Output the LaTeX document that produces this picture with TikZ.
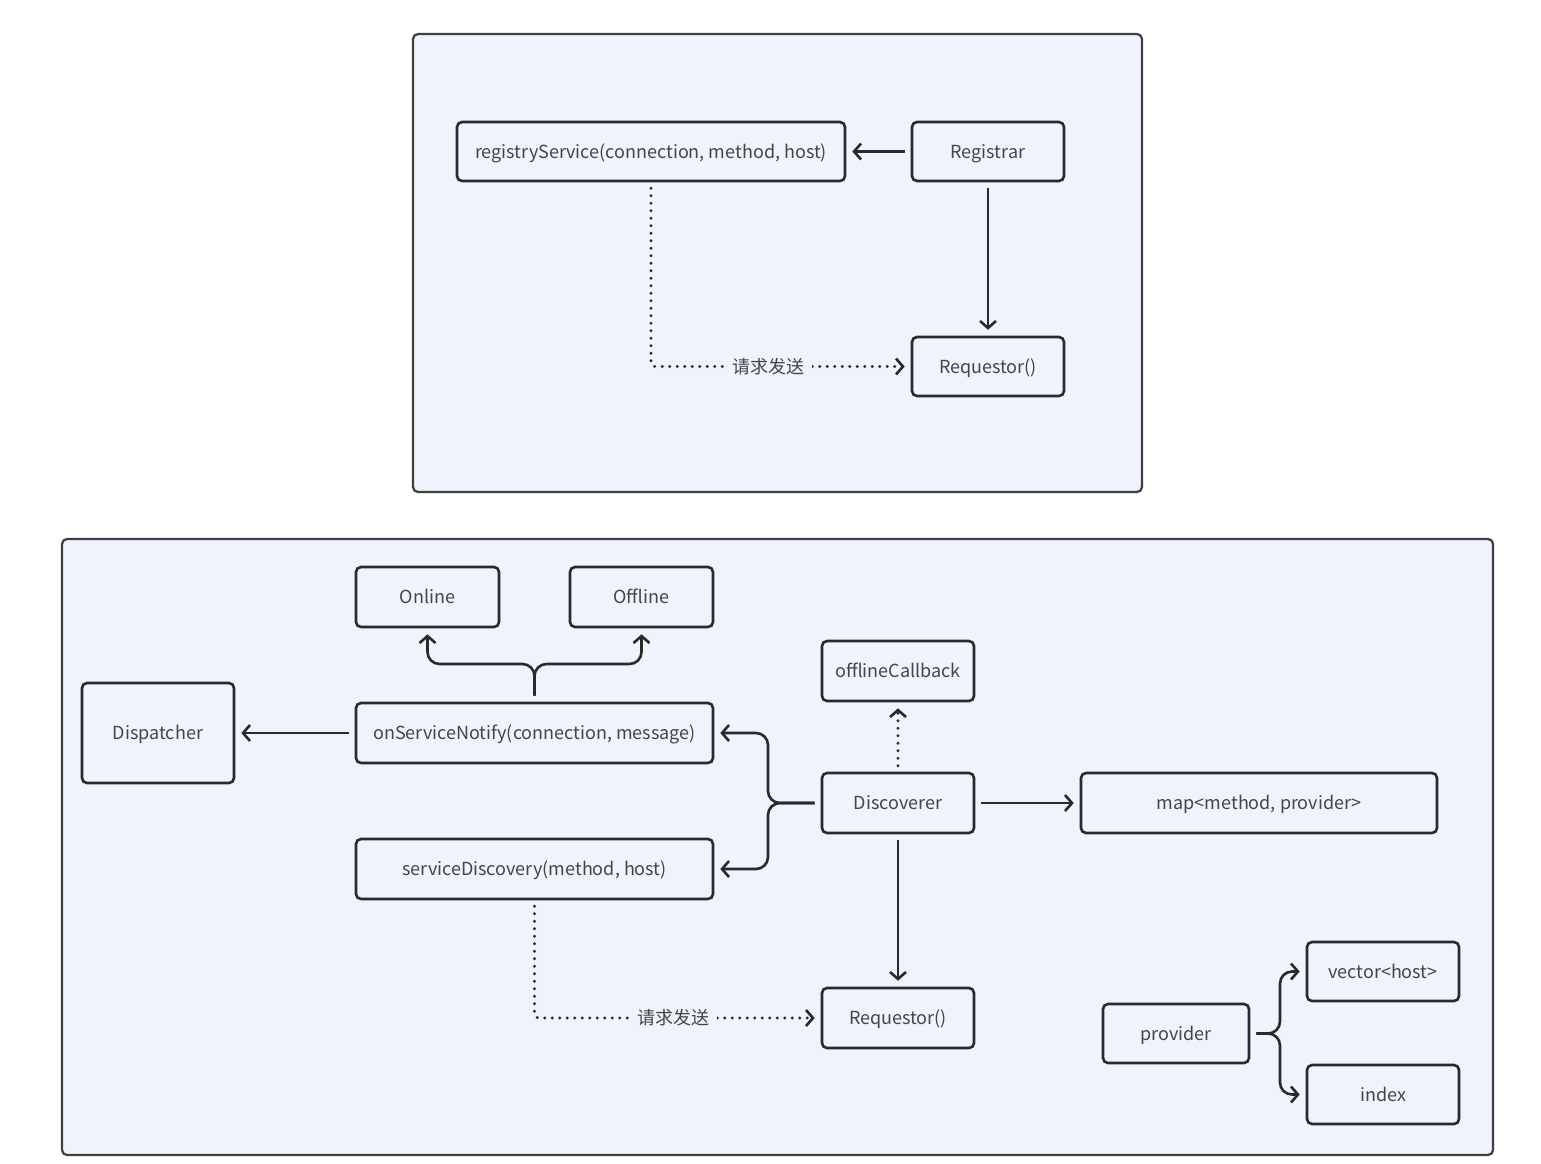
\documentclass[tikz,border=0pt]{standalone}
\usepackage{fontspec}
\setmainfont{Noto Sans CJK SC}
\usetikzlibrary{arrows.meta,calc}
\definecolor{bgfill}{HTML}{EEF3FC}
\definecolor{edge}{HTML}{2A2A2A}
\definecolor{txt}{HTML}{454545}
\begin{document}
\begin{tikzpicture}[x=1pt,y=-1pt,
  box/.style={draw=edge,line width=2.6pt,rounded corners=5pt,fill=bgfill,
    text=txt,font=\fontsize{18}{20}\selectfont,inner sep=0pt,text height=1.35em,text depth=0em},
  panel/.style={draw=edge!90,line width=2.2pt,rounded corners=5pt,fill=bgfill},
  conn/.style={draw=edge,line width=2.6pt,-{Straight Barb[length=7pt,width=16pt,line width=2.6pt]},
    shorten <=6pt, shorten >=6pt},
  dotline/.style={conn,line cap=round,dash pattern=on 0pt off 7.5pt,line width=3.2pt},
  lbl/.style={fill=bgfill,text=txt,font=\fontsize{18}{20}\selectfont,inner xsep=8pt,inner ysep=0pt,text height=1.35em,text depth=0em}]
\useasboundingbox[fill=white] (0,0) rectangle (1541,1163);
% panels
\draw[panel] (413,34) rectangle (1142,492);
\draw[panel] (62,539) rectangle (1493,1155);
% top panel nodes
\node[box,minimum width=388pt,minimum height=59pt] (reg) at (651,151.5) {registryService(connection, method, host)};
\node[box,minimum width=152pt,minimum height=59pt] (registrar) at (988,151.5) {Registrar};
\node[box,minimum width=152pt,minimum height=59pt] (reqA) at (988,366.5) {Requestor()};
\draw[conn] (registrar) -- (reg);
\draw[conn] (registrar) -- (reqA);
\draw[dotline,rounded corners=4pt] (reg.south) |- (reqA.west);
\node[lbl] (labA) at (768,366.5) {请求发送};
% bottom panel nodes
\node[box,minimum width=143pt,minimum height=60pt] (online) at (427.5,597) {Online};
\node[box,minimum width=143pt,minimum height=60pt] (offline) at (641.5,597) {Offline};
\node[box,minimum width=152pt,minimum height=100pt] (disp) at (158,733) {Dispatcher};
\node[box,minimum width=357pt,minimum height=60pt] (onsn) at (534.5,733) {onServiceNotify(connection, message)};
\node[box,minimum width=357pt,minimum height=60pt] (sdisc) at (534.5,869) {serviceDiscovery(method, host)};
\node[box,minimum width=152pt,minimum height=60pt] (offcb) at (898,671) {offlineCallback};
\node[box,minimum width=152pt,minimum height=60pt] (disco) at (898,803) {Discoverer};
\node[box,minimum width=356pt,minimum height=60pt] (map) at (1259,803) {map<method, provider>};
\node[box,minimum width=152pt,minimum height=60pt] (reqB) at (898,1018) {Requestor()};
\node[box,minimum width=146pt,minimum height=59pt] (prov) at (1176,1033.5) {provider};
\node[box,minimum width=152pt,minimum height=59pt] (vec) at (1383,971.5) {vector<host>};
\node[box,minimum width=152pt,minimum height=59pt] (idx) at (1383,1094.5) {index};
% connectors
\draw[conn] (onsn) -- (disp);
\draw[conn,rounded corners=12pt] (onsn.north) -- (onsn.north |- 0,664) -- (online.south |- 0,664) -- (online.south);
\draw[conn,rounded corners=12pt] (onsn.north) -- (onsn.north |- 0,664) -- (offline.south |- 0,664) -- (offline.south);
\draw[conn,rounded corners=12pt] (disco.west) -- (768,803) -- (768,733) -- (onsn.east);
\draw[conn,rounded corners=12pt] (disco.west) -- (768,803) -- (768,869) -- (sdisc.east);
\draw[dotline] (disco.north) -- (offcb.south);
\draw[conn] (disco) -- (map);
\draw[conn] (disco) -- (reqB);
\draw[dotline,rounded corners=4pt] (sdisc.south) |- (reqB.west);
\node[lbl] (labB) at (673,1018) {请求发送};
\draw[conn,rounded corners=12pt] (prov.east) -- (1280,1033.5) -- (1280,971.5) -- (vec.west);
\draw[conn,rounded corners=12pt] (prov.east) -- (1280,1033.5) -- (1280,1094.5) -- (idx.west);
\end{tikzpicture}
\end{document}
